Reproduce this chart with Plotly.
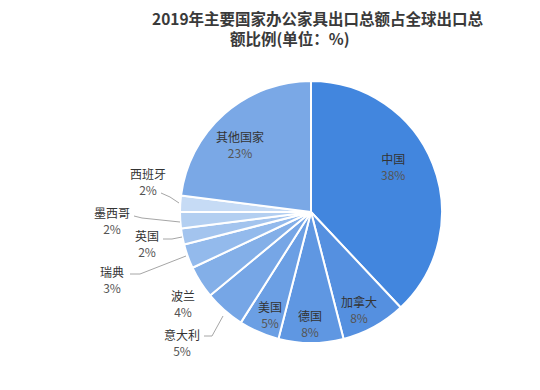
import plotly.graph_objects as go

countries = ["中国", "加拿大", "德国", "美国", "意大利", "波兰", "瑞典", "英国", "墨西哥", "西班牙", "其他国家"]
shares = [38, 8, 8, 5, 5, 4, 3, 2, 2, 2, 23]
colors = ["#4286DE", "#5590E0", "#5F97E2", "#6B9FE4", "#76A6E6", "#83AFE8",
          "#93BAEC", "#A3C4EE", "#B3CFF1", "#C6DBF5", "#7AA8E6"]
title_lines = ["2019年主要国家办公家具出口总额占全球出口总", "额比例(单位：%)"]

# layout helpers: target window pixels -> paper coords (page body has 8px margin)
W, H = 540, 390
OFF = 8


def px(x):
    return (x - OFF) / W


def py(y):
    return 1 - (y - OFF) / H


label_pos = {
    "中国": (393, 166), "加拿大": (359, 309), "德国": (310, 323), "美国": (270, 314),
    "意大利": (182, 342), "波兰": (183, 303), "瑞典": (112, 279), "英国": (147, 243),
    "墨西哥": (112, 221), "西班牙": (148, 181), "其他国家": (240, 144),
}
leaders = {
    "意大利": [(204, 336), (212, 336), (223, 316)],
    "瑞典": [(130, 274), (140, 274), (186, 256)],
    "英国": [(163, 239), (172, 239), (182, 237)],
    "墨西哥": [(134, 216), (142, 218), (180, 222)],
    "西班牙": [(161, 193), (170, 197), (179, 203)],
}

CX, CY, R = 311, 212, 131
fig = go.Figure(go.Pie(
    labels=countries, values=shares, sort=False, direction="clockwise", rotation=0,
    marker=dict(colors=colors, line=dict(color="white", width=2)),
    textinfo="none", hoverinfo="label+percent", showlegend=False,
    domain=dict(x=[px(CX - R), px(CX + R)], y=[py(CY + R), py(CY - R)]),
))

annotations = []
for name, val in zip(countries, shares):
    x, y = label_pos[name]
    annotations.append(dict(
        x=px(x), y=py(y), xref="paper", yref="paper", showarrow=False,
        text=f"{name}<br><span style='color:#555555'>{val}%</span>",
        font=dict(family="Noto Sans CJK SC", size=12, color="#333333"),
        align="center", xanchor="center", yanchor="middle",
    ))

shapes = []
for name, pts in leaders.items():
    path = "M " + " L ".join(f"{px(x)},{py(y)}" for x, y in pts)
    shapes.append(dict(type="path", xref="paper", yref="paper", path=path,
                       line=dict(color="#A6A6A6", width=1)))

title_font = dict(family="Noto Sans CJK SC", size=15.5, color="#3A3A3A")
for line, (tx, ty) in zip(title_lines, [(318, 18), (290, 38)]):
    annotations.append(dict(
        x=px(tx), y=py(ty), xref="paper", yref="paper", showarrow=False,
        text="<b>" + line + "</b>", font=title_font,
        xanchor="center", yanchor="middle", borderpad=0,
    ))

fig.update_layout(
    width=W, height=H, margin=dict(l=0, r=0, t=0, b=0),
    paper_bgcolor="white", plot_bgcolor="white",
    annotations=annotations, shapes=shapes,
)
fig.write_html("out.html")
